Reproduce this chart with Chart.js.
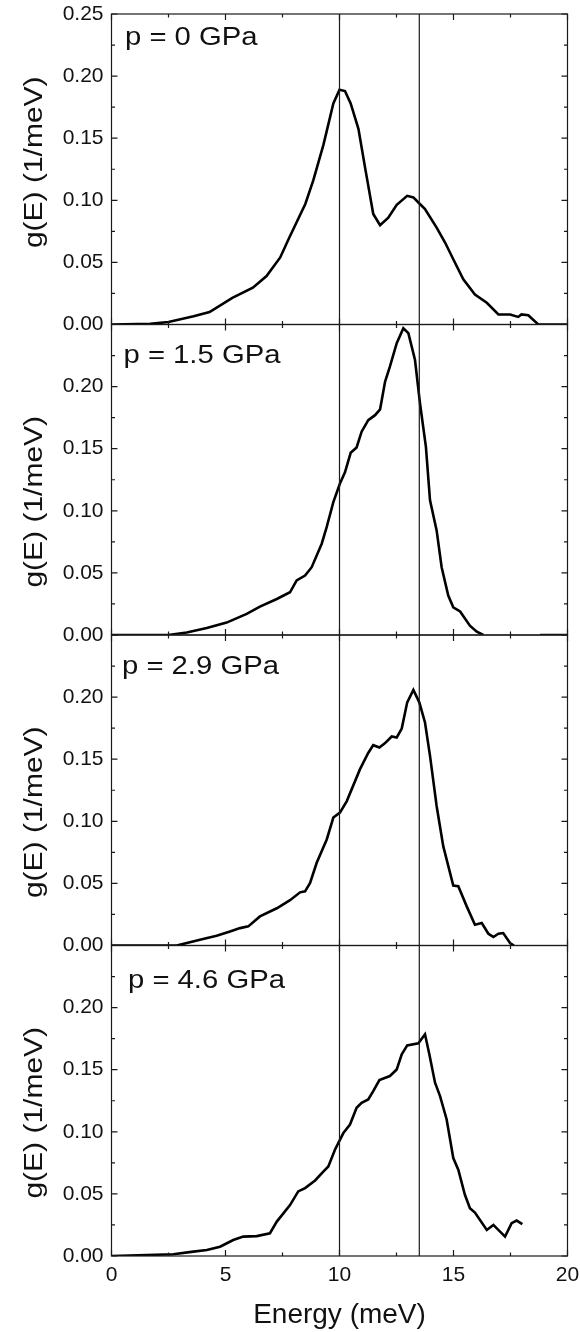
<!DOCTYPE html>
<html>
<head>
<meta charset="utf-8">
<script src="https://cdn.jsdelivr.net/npm/chart.js@4.4.1/dist/chart.umd.min.js"></script>
<style>
  html, body { margin: 0; padding: 0; background: #fff; }
  #wrap { position: relative; width: 580px; height: 1332px; }
</style>
</head>
<body>
<div id="wrap"><canvas id="dosChart" width="580" height="1332"></canvas></div>
<script>
// panel labels (pressure) and the two reference energies
const pressures = ["p = 0 GPa", "p = 1.5 GPa", "p = 2.9 GPa", "p = 4.6 GPa"];
const markEnergies = [10, 13.5];

// p = 0 GPa
const e0 = [0, 1.7, 2.5, 3.6, 4.3, 5.3, 6.2, 6.8, 7.4, 7.8, 8.5, 8.85, 9.3, 9.73, 10.0, 10.24, 10.49, 10.83, 11.12, 11.48, 11.78, 12.14, 12.51, 12.97, 13.24, 13.46, 13.75, 14.26, 14.63, 14.99, 15.43, 15.94, 16.46, 16.97, 17.48, 17.84, 17.98, 18.28, 18.72, 20];
const g0 = [0, 0.0005, 0.002, 0.0067, 0.010, 0.0215, 0.0296, 0.039, 0.054, 0.070, 0.097, 0.116, 0.145, 0.178, 0.189, 0.188, 0.178, 0.1575, 0.1265, 0.089, 0.080, 0.086, 0.0964, 0.1036, 0.1023, 0.0982, 0.093, 0.078, 0.066, 0.0525, 0.0363, 0.0242, 0.0175, 0.0081, 0.0081, 0.0061, 0.0081, 0.0075, 0, 0];

// p = 1.5 GPa (gap between 16.3 and 18.8)
const e1 = [0, 2.49, 3.3, 4.18, 5.05, 5.93, 6.51, 7.25, 7.83, 8.12, 8.49, 8.78, 9.22, 9.44, 9.73, 10.02, 10.24, 10.49, 10.75, 10.97, 11.26, 11.56, 11.78, 12.0, 12.21, 12.51, 12.8, 13.02, 13.31, 13.53, 13.79, 13.97, 14.26, 14.48, 14.77, 14.99, 15.29, 15.72, 16.02, 16.31, 17.5, 18.8, 20];
const g1 = [0, 0, 0.002, 0.0056, 0.010, 0.017, 0.0229, 0.029, 0.0344, 0.0439, 0.0479, 0.0546, 0.0735, 0.087, 0.107, 0.122, 0.131, 0.1467, 0.151, 0.1637, 0.173, 0.177, 0.1817, 0.204, 0.216, 0.235, 0.247, 0.243, 0.2216, 0.1866, 0.1515, 0.1085, 0.0842, 0.0546, 0.0317, 0.0223, 0.019, 0.0075, 0.0027, 0, null, 0, 0];

// p = 2.9 GPa
const e2 = [0, 2.86, 3.88, 4.61, 5.2, 5.64, 6.0, 6.51, 7.25, 7.83, 8.27, 8.49, 8.71, 9.0, 9.44, 9.73, 10.02, 10.32, 10.9, 11.26, 11.48, 11.75, 12.0, 12.29, 12.51, 12.73, 12.97, 13.24, 13.5, 13.75, 13.97, 14.26, 14.55, 14.99, 15.21, 15.58, 15.94, 16.24, 16.53, 16.75, 16.97, 17.18, 17.48, 17.65];
const g2 = [0, 0, 0.0046, 0.0078, 0.0113, 0.014, 0.0154, 0.0234, 0.030, 0.0365, 0.0428, 0.0436, 0.0504, 0.0666, 0.0854, 0.103, 0.107, 0.1163, 0.142, 0.155, 0.1613, 0.1594, 0.163, 0.1683, 0.1675, 0.1747, 0.1958, 0.2057, 0.1958, 0.1796, 0.1527, 0.1123, 0.080, 0.0482, 0.0477, 0.0315, 0.0167, 0.0181, 0.0095, 0.0068, 0.0095, 0.010, 0.002, 0];

// p = 4.6 GPa
const e3 = [0, 2.71, 3.59, 4.18, 4.76, 5.34, 5.78, 6.37, 6.95, 7.25, 7.83, 8.19, 8.49, 8.93, 9.29, 9.51, 9.8, 10.17, 10.46, 10.75, 10.97, 11.26, 11.48, 11.75, 12.21, 12.51, 12.73, 12.97, 13.46, 13.75, 13.94, 14.19, 14.41, 14.7, 14.99, 15.21, 15.5, 15.72, 15.94, 16.46, 16.75, 17.26, 17.55, 17.77, 18.02];
const g3 = [0, 0.0014, 0.0035, 0.0048, 0.0075, 0.0129, 0.0156, 0.016, 0.0183, 0.0277, 0.041, 0.052, 0.0547, 0.0608, 0.068, 0.0721, 0.0856, 0.099, 0.1058, 0.1193, 0.1233, 0.126, 0.1327, 0.1416, 0.1449, 0.1502, 0.1624, 0.1696, 0.1712, 0.1785, 0.1624, 0.1395, 0.1287, 0.1099, 0.0789, 0.0695, 0.0493, 0.0385, 0.035, 0.021, 0.025, 0.0156, 0.0264, 0.0285, 0.0256];

const energies = [e0, e1, e2, e3];
const dos = [g0, g1, g2, g3];

// label placement per panel (offset from panel's top-left corner)
const labelPos = [[13.5, 31], [12, 38.5], [10.5, 38.5], [16.5, 42]];
const titleShift = [-7, 22, 22, 12];

const FONT = "Arial, 'Liberation Sans', sans-serif";
const INK = "#111";

// keep chart.js from growing the margins for overhanging tick labels
function noOverhang(s) {
  s.paddingTop = 0;
  s.paddingBottom = 0;
  s.paddingLeft = 0;
  s.paddingRight = 0;
}

const datasets = dos.map((g, i) => ({
  label: pressures[i],
  data: g.map((v, k) => ({ x: energies[i][k], y: v })),
  yAxisID: "y" + i,
  borderColor: "#000",
  borderWidth: 2.6,
  pointRadius: 0,
  tension: 0,
  spanGaps: false,
  fill: false
}));

const scales = {
  x: {
    type: "linear",
    position: "bottom",
    min: 0,
    max: 20,
    afterFit: (s) => { s.height = 76; noOverhang(s); },
    grid: { display: false, drawTicks: false },
    border: { display: false },
    ticks: { stepSize: 5, color: INK, font: { family: FONT, size: 21 }, padding: 7 },
    title: { display: true, text: "Energy (meV)", color: INK, font: { family: FONT, size: 28 }, padding: { top: 4, bottom: 0 } }
  }
};
pressures.forEach((p, i) => {
  scales["y" + i] = {
    type: "linear",
    position: "left",
    stack: "panels",
    stackWeight: 1,
    weight: 4 - i,
    min: 0,
    max: 0.25,
    afterFit: (s) => { s.width = 111.5; noOverhang(s); },
    grid: { display: false, drawTicks: false },
    border: { display: false },
    ticks: {
      stepSize: 0.05,
      color: INK,
      font: { family: FONT, size: 21 },
      padding: 8,
      callback: (v) => (i > 0 && v > 0.249) ? "" : v.toFixed(2)
    }
  };
});

// frames, inward ticks, reference lines, panel labels, y titles
const decor = {
  id: "decor",
  afterDatasetsDraw(chart) {
    const ctx = chart.ctx;
    const ca = chart.chartArea;
    const x = chart.scales.x;
    ctx.save();
    ctx.strokeStyle = "#1a1a1a";
    ctx.lineWidth = 1.2;

    markEnergies.forEach((e) => {
      const px = x.getPixelForValue(e);
      ctx.beginPath();
      ctx.moveTo(px, ca.top);
      ctx.lineTo(px, ca.bottom);
      ctx.stroke();
    });

    pressures.forEach((p, i) => {
      const s = chart.scales["y" + i];
      ctx.strokeRect(ca.left, s.top, ca.right - ca.left, s.bottom - s.top);

      ctx.beginPath();
      for (let k = 0; k <= 10; k++) {
        const py = s.getPixelForValue(k * 0.025);
        const len = k % 2 === 0 ? 6 : 3.5;
        ctx.moveTo(ca.left, py); ctx.lineTo(ca.left + len, py);
        ctx.moveTo(ca.right, py); ctx.lineTo(ca.right - len, py);
      }
      for (let k = 0; k <= 8; k++) {
        const px = x.getPixelForValue(k * 2.5);
        const len = k % 2 === 0 ? 6 : 3.5;
        ctx.moveTo(px, s.top); ctx.lineTo(px, s.top + len);
        ctx.moveTo(px, s.bottom); ctx.lineTo(px, s.bottom - len);
      }
      ctx.stroke();

      ctx.fillStyle = INK;
      ctx.font = "25px " + FONT;
      ctx.textAlign = "left";
      ctx.textBaseline = "alphabetic";
      ctx.save();
      ctx.translate(ca.left + labelPos[i][0], s.top + labelPos[i][1]);
      ctx.scale(1.17, 1);
      ctx.fillText(p, 0, 0);
      ctx.restore();

      ctx.save();
      ctx.translate(41.5, (s.top + s.bottom) / 2 + titleShift[i]);
      ctx.rotate(-Math.PI / 2);
      ctx.scale(1.2, 1);
      ctx.textAlign = "center";
      ctx.fillText("g(E) (1/meV)", 0, 0);
      ctx.restore();
    });
    ctx.restore();
  }
};

new Chart(document.getElementById("dosChart").getContext("2d"), {
  type: "line",
  data: { datasets: datasets },
  options: {
    responsive: false,
    devicePixelRatio: 1,
    animation: false,
    layout: { padding: { top: 14, right: 12.5, left: 0, bottom: 0 } },
    plugins: { legend: { display: false }, tooltip: { enabled: false } },
    scales: scales
  },
  plugins: [decor]
});
</script>
</body>
</html>
